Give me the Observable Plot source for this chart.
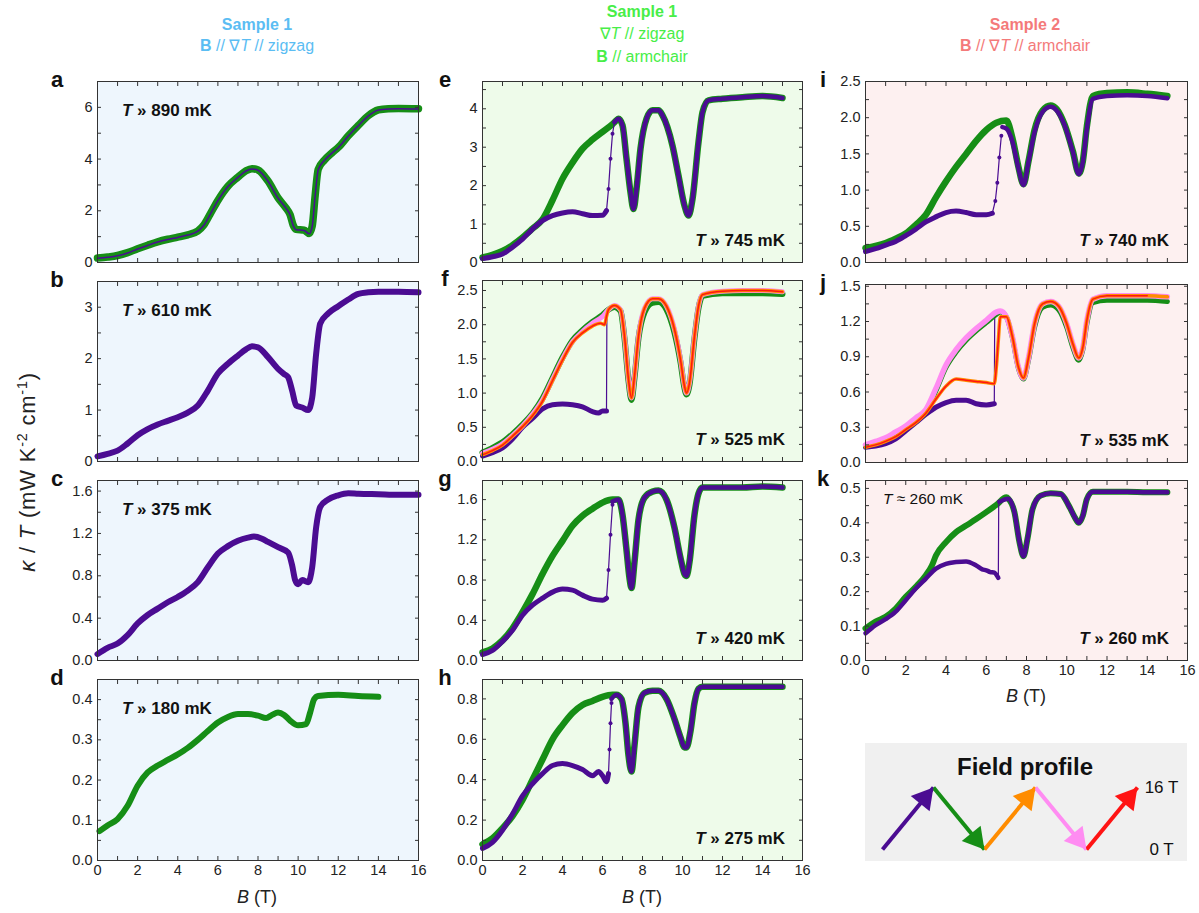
<!DOCTYPE html>
<html><head><meta charset="utf-8">
<script src="https://cdn.jsdelivr.net/npm/d3@7"></script>
<script src="https://cdn.jsdelivr.net/npm/@observablehq/plot@0.6"></script>
<style>
body{margin:0;background:#fff;font-family:"Liberation Sans",Arial,sans-serif;}
#fig{position:relative;width:1199px;height:913px;overflow:hidden;background:#fff;}
.abs{position:absolute;white-space:nowrap;line-height:1;}
</style></head><body><div id="fig"></div><script>
// ---------- data (B in tesla, kappa/T in mW K^-2 cm^-1) ----------
const xTickLabels = [0,2,4,6,8,10,12,14,16];
const temps = {a:"890",b:"610",c:"375",d:"180",e:"745",f:"525",g:"420",h:"275",i:"740",j:"535",k:"260"};
const fieldSweeps = [0,16,0,16,0,16];
const sweepNames = ["up1","down1","up2","down2","up3"];

// Sample 1, B // gradT // zigzag
const aGreen = [[0,0.17],[0.5,0.21],[1,0.27],[1.5,0.38],[2,0.53],[2.5,0.67],[3,0.8],[3.5,0.9],[4,0.98],[4.5,1.07],[5,1.22],[5.3,1.45],[5.6,1.85],[6,2.4],[6.5,2.95],[7,3.3],[7.4,3.55],[7.7,3.63],[8,3.58],[8.5,3.15],[9,2.5],[9.4,2.1],[9.6,1.85],[9.75,1.45],[9.9,1.28],[10.3,1.25],[10.55,1.12],[10.7,1.4],[10.85,2.6],[11,3.6],[11.3,3.95],[11.7,4.25],[12,4.45],[12.5,4.9],[13,5.3],[13.5,5.68],[14,5.9],[14.5,5.95],[15,5.96],[16,5.95]];
const aPurple = [[0,0.16],[0.5,0.2],[1,0.26],[1.5,0.37],[2,0.52],[2.5,0.66],[3,0.79],[3.5,0.89],[4,0.97],[4.5,1.06],[5,1.21],[5.3,1.44],[5.6,1.84],[6,2.39],[6.5,2.94],[7,3.29],[7.4,3.54],[7.7,3.62],[8,3.57],[8.5,3.14],[9,2.49],[9.4,2.09],[9.6,1.84],[9.75,1.44],[9.9,1.27],[10.3,1.24],[10.55,1.11],[10.7,1.39],[10.85,2.59],[11,3.59],[11.3,3.94],[11.7,4.24],[12,4.44],[12.5,4.89],[13,5.29],[13.5,5.67],[14,5.9],[14.5,5.94],[15,5.95],[16,5.94]];
const bPurple = [[0,0.1],[0.5,0.15],[1,0.21],[1.5,0.35],[2,0.51],[2.5,0.63],[3,0.72],[3.5,0.79],[4,0.86],[4.5,0.95],[5,1.09],[5.5,1.38],[6,1.71],[6.5,1.9],[7,2.06],[7.4,2.18],[7.7,2.24],[8,2.22],[8.5,2.03],[9,1.8],[9.3,1.7],[9.5,1.64],[9.7,1.38],[9.9,1.09],[10.2,1.05],[10.5,1.0],[10.7,1.24],[10.9,2.1],[11.1,2.68],[11.5,2.88],[12,3.02],[12.5,3.15],[13,3.26],[13.5,3.29],[14,3.3],[15,3.3],[16,3.29]];
const cPurple = [[0,0.06],[0.5,0.12],[1,0.16],[1.5,0.24],[2,0.35],[2.5,0.43],[3,0.49],[3.5,0.55],[4,0.6],[4.5,0.66],[5,0.74],[5.5,0.88],[6,1.01],[6.5,1.08],[7,1.13],[7.5,1.16],[7.8,1.17],[8.2,1.15],[8.5,1.12],[9,1.07],[9.5,1.02],[9.7,0.9],[9.85,0.76],[10,0.72],[10.2,0.76],[10.5,0.74],[10.7,0.88],[10.9,1.26],[11.1,1.45],[11.5,1.52],[12,1.56],[12.5,1.58],[13,1.575],[14,1.57],[15,1.565],[16,1.565]];
const dGreen = [[0.1,0.073],[0.5,0.087],[1,0.103],[1.5,0.136],[2,0.186],[2.5,0.219],[3,0.236],[3.5,0.25],[4,0.264],[4.5,0.28],[5,0.3],[5.5,0.322],[6,0.343],[6.5,0.357],[7,0.364],[7.5,0.364],[8,0.36],[8.4,0.354],[8.7,0.362],[9,0.368],[9.3,0.362],[9.6,0.348],[10,0.336],[10.4,0.339],[10.6,0.368],[10.8,0.401],[11,0.409],[12,0.412],[13,0.409],[14,0.407]];

// Sample 1, gradT // zigzag, B // armchair
const eUpLow = [[0,0.1],[0.5,0.15],[1,0.22],[1.5,0.4],[2,0.61],[2.5,0.87],[3,1.09],[3.5,1.22],[4,1.29],[4.5,1.32],[5,1.27],[5.5,1.22],[6,1.23],[6.2,1.35]];
const eJump = [[6.2,1.35],[6.3,1.91],[6.4,2.7],[6.5,3.35],[6.6,3.65]];
const eDownHigh = [[0,0.13],[0.5,0.2],[1,0.3],[1.5,0.45],[2,0.65],[2.5,0.88],[3,1.12],[3.5,1.62],[4,2.18],[4.5,2.6],[5,2.96],[5.5,3.2],[6,3.4],[6.5,3.6],[6.7,3.7]];
const eShared = [[6.6,3.65],[6.8,3.74],[7,3.57],[7.2,2.7],[7.4,1.83],[7.55,1.39],[7.7,1.91],[7.9,2.96],[8.2,3.74],[8.5,3.96],[8.8,3.96],[9,3.83],[9.5,3.04],[9.8,2.26],[10.1,1.48],[10.3,1.22],[10.5,1.65],[10.8,3.13],[11,3.91],[11.3,4.22],[12,4.26],[13,4.3],[14,4.33],[15,4.28]];

const fUpLow = [[0,0.08],[0.5,0.13],[1,0.2],[1.5,0.33],[2,0.5],[2.5,0.63],[3,0.77],[3.5,0.83],[4,0.84],[4.5,0.83],[5,0.8],[5.5,0.73],[5.8,0.71],[6,0.74],[6.2,0.74]];
const fJump = [[6.2,0.74],[6.22,2.2]];
const fDownHigh = [[0,0.13],[0.5,0.2],[1,0.28],[1.5,0.4],[2,0.54],[2.5,0.7],[3,0.92],[3.5,1.22],[4,1.52],[4.5,1.77],[5,1.92],[5.5,2.04],[6,2.14],[6.3,2.22]];
const fDown2High = [[0,0.12],[0.5,0.18],[1,0.26],[1.5,0.38],[2,0.52],[2.5,0.69],[3,0.9],[3.5,1.2],[4,1.5],[4.5,1.75],[5,1.9],[5.5,2.02],[6,2.12],[6.3,2.22]];
const fUp2High = [[0,0.1],[0.5,0.16],[1,0.24],[1.5,0.37],[2,0.51],[2.5,0.67],[3,0.88],[3.5,1.18],[4,1.48],[4.5,1.74],[5,1.88],[5.5,1.98],[5.9,2.02],[6.1,2.0],[6.2,2.12],[6.3,2.22]];
const fShared = [[6.3,2.22],[6.6,2.28],[6.9,2.22],[7.1,1.83],[7.3,1.2],[7.45,0.93],[7.6,1.25],[7.8,1.83],[8.1,2.24],[8.5,2.38],[8.8,2.38],[9.2,2.27],[9.6,1.93],[9.9,1.49],[10.1,1.1],[10.2,1.0],[10.35,1.15],[10.6,1.83],[10.8,2.27],[11,2.44],[12,2.49],[13,2.5],[14,2.5],[15,2.48]];
const fDownShared = [[6.3,2.2],[6.6,2.26],[6.9,2.2],[7.1,1.8],[7.3,1.18],[7.45,0.9],[7.6,1.22],[7.8,1.8],[8.1,2.18],[8.5,2.32],[8.8,2.33],[9.2,2.22],[9.6,1.88],[9.9,1.45],[10.1,1.07],[10.2,0.98],[10.35,1.12],[10.6,1.8],[10.8,2.24],[11,2.42],[12,2.46],[13,2.46],[14,2.46],[15,2.45]];

const gUpLow = [[0,0.06],[0.5,0.1],[1,0.19],[1.5,0.3],[2,0.45],[2.5,0.55],[3,0.62],[3.5,0.68],[4,0.71],[4.5,0.7],[5,0.65],[5.5,0.61],[6,0.6],[6.2,0.62]];
const gJump = [[6.2,0.62],[6.3,0.9],[6.4,1.25],[6.5,1.55]];
const gDownHigh = [[0,0.08],[0.5,0.12],[1,0.2],[1.5,0.32],[2,0.48],[2.5,0.66],[3,0.86],[3.5,1.04],[4,1.19],[4.5,1.34],[5,1.44],[5.5,1.51],[6,1.57],[6.5,1.6]];
const gShared = [[6.5,1.58],[6.8,1.6],[7.0,1.45],[7.2,1.1],[7.35,0.82],[7.45,0.72],[7.6,0.98],[7.8,1.4],[8.1,1.62],[8.5,1.68],[8.8,1.69],[9.2,1.6],[9.6,1.32],[9.9,1.02],[10.1,0.86],[10.2,0.84],[10.35,0.98],[10.6,1.45],[10.8,1.66],[11,1.72],[12,1.72],[13,1.72],[14,1.73],[15,1.72]];

const hUpLow = [[0,0.06],[0.5,0.09],[1,0.15],[1.5,0.23],[2,0.32],[2.5,0.38],[3,0.43],[3.5,0.47],[4,0.48],[4.5,0.47],[5,0.45],[5.5,0.42],[5.8,0.44],[6,0.42],[6.2,0.39],[6.3,0.43]];
const hJump = [[6.3,0.43],[6.35,0.55],[6.4,0.68],[6.45,0.78]];
const hDownHigh = [[0,0.08],[0.5,0.11],[1,0.16],[1.5,0.22],[2,0.3],[2.5,0.4],[3,0.5],[3.5,0.6],[4,0.67],[4.5,0.73],[5,0.77],[5.5,0.79],[6,0.81],[6.5,0.82]];
const hShared = [[6.45,0.8],[6.7,0.82],[6.95,0.8],[7.15,0.68],[7.3,0.52],[7.45,0.44],[7.6,0.57],[7.8,0.76],[8.1,0.83],[8.5,0.84],[8.8,0.84],[9.2,0.8],[9.6,0.7],[9.9,0.61],[10.1,0.56],[10.2,0.56],[10.4,0.64],[10.6,0.78],[10.8,0.85],[11,0.86],[12,0.86],[13,0.86],[14,0.86],[15,0.86]];

// Sample 2, B // gradT // armchair
const iUpLow = [[0,0.15],[0.5,0.19],[1,0.24],[1.5,0.29],[2,0.37],[2.5,0.46],[3,0.56],[3.5,0.63],[4,0.69],[4.5,0.71],[5,0.69],[5.5,0.66],[6,0.66],[6.3,0.68]];
const iJump = [[6.3,0.68],[6.45,0.85],[6.55,1.1],[6.65,1.45],[6.75,1.75]];
const iDownHigh = [[0,0.2],[0.5,0.23],[1,0.27],[1.5,0.33],[2,0.4],[2.5,0.52],[3,0.66],[3.5,0.9],[4,1.12],[4.5,1.32],[5,1.5],[5.5,1.68],[6,1.83],[6.5,1.93],[7,1.96]];
const iShared = [[6.8,1.87],[7,1.85],[7.3,1.67],[7.6,1.3],[7.85,1.07],[8.1,1.39],[8.4,1.8],[8.8,2.08],[9.2,2.15],[9.5,2.1],[9.9,1.89],[10.3,1.53],[10.6,1.22],[10.8,1.39],[11,1.85],[11.3,2.26],[12,2.3],[13,2.31],[14,2.3],[15,2.27]];
const iDownShared = [[7,1.96],[7.3,1.72],[7.6,1.32],[7.85,1.08],[8.1,1.4],[8.4,1.83],[8.8,2.1],[9.2,2.17],[9.5,2.12],[9.9,1.9],[10.3,1.54],[10.6,1.23],[10.8,1.4],[11,1.88],[11.3,2.3],[12,2.34],[13,2.35],[14,2.33],[15,2.3]];

const jUpLow = [[0,0.13],[0.5,0.14],[1,0.16],[1.5,0.2],[2,0.27],[2.5,0.34],[3,0.41],[3.5,0.47],[4,0.51],[4.5,0.53],[5,0.53],[5.5,0.5],[6,0.49],[6.4,0.5]];
const jJump = [[6.4,0.5],[6.42,1.25]];
const jUp2Low = [[0,0.13],[0.5,0.15],[1,0.18],[1.5,0.22],[2,0.28],[2.5,0.34],[3,0.42],[3.5,0.54],[4,0.65],[4.5,0.71],[5,0.7],[5.5,0.69],[6,0.68],[6.4,0.67],[6.5,0.81],[6.6,1.04],[6.7,1.24]];
const jDownHigh = [[0,0.14],[0.5,0.17],[1,0.2],[1.5,0.25],[2,0.3],[2.5,0.36],[3,0.43],[3.5,0.61],[4,0.81],[4.5,0.94],[5,1.04],[5.5,1.12],[6,1.19],[6.5,1.26],[6.7,1.28]];
const jDown2High = [[0,0.15],[0.5,0.18],[1,0.21],[1.5,0.26],[2,0.31],[2.5,0.38],[3,0.45],[3.5,0.63],[4,0.83],[4.5,0.96],[5,1.06],[5.5,1.14],[6,1.21],[6.5,1.28],[6.7,1.29]];
const jShared = [[6.7,1.26],[7,1.24],[7.3,1.07],[7.6,0.81],[7.85,0.72],[8.1,0.89],[8.4,1.18],[8.8,1.35],[9.2,1.37],[9.6,1.33],[10,1.18],[10.3,1.01],[10.6,0.89],[10.8,0.98],[11,1.21],[11.3,1.39],[12,1.42],[13,1.42],[14,1.42],[15,1.41]];
const jDownShared = [[7,1.24],[7.3,1.06],[7.6,0.8],[7.85,0.71],[8.1,0.87],[8.4,1.15],[8.8,1.32],[9.2,1.34],[9.6,1.3],[10,1.15],[10.3,0.98],[10.6,0.87],[10.8,0.96],[11,1.18],[11.3,1.36],[12,1.38],[13,1.38],[14,1.38],[15,1.37]];

const kUpLow = [[0,0.079],[0.5,0.103],[1,0.12],[1.5,0.142],[2,0.175],[2.5,0.209],[3,0.238],[3.5,0.267],[4,0.281],[4.5,0.286],[5,0.288],[5.5,0.276],[5.8,0.265],[6,0.262],[6.2,0.257],[6.4,0.255],[6.6,0.24]];
const kJump = [[6.6,0.24],[6.62,0.46]];
const kDownHigh = [[0,0.093],[0.5,0.113],[1,0.127],[1.5,0.151],[2,0.185],[2.5,0.214],[3,0.248],[3.3,0.276],[3.5,0.305],[4,0.344],[4.5,0.373],[5,0.392],[5.5,0.411],[6,0.431],[6.5,0.452],[7,0.474]];
const kShared = [[6.65,0.461],[7.1,0.47],[7.4,0.431],[7.65,0.344],[7.85,0.303],[8.05,0.354],[8.3,0.44],[8.7,0.479],[9.2,0.486],[9.7,0.484],[10.1,0.45],[10.4,0.416],[10.6,0.4],[10.8,0.421],[11,0.469],[11.3,0.49],[12,0.49],[13,0.49],[14,0.489],[15,0.489]];

// ---------- styling ----------
const PURPLE="#4b0c92", GREEN="#168e16", ORANGE="#ff8c00", PINK="#ff8cf2", RED="#ff1414";
const BG=["#eef6fd","#eefbea","#fdf0f0"];
const HEAD=["#5bbdf3","#48ee48","#f47a7a"];
const COLS=[{l:97,r:418},{l:482,r:802},{l:865,r:1187}];
const ROWS=[{t:81,b:262},{t:281,b:461},{t:480,b:660},{t:679,b:860}];
const FONT='"Liberation Sans", Arial, Helvetica, sans-serif';
const fig=document.getElementById("fig");

function join(a,b){const last=a[a.length-1][0];return a.concat(b.filter(d=>d[0]>last));}
function L(data,color,width,extra={}){return {data,color,width,...extra};}
function html(content,x,y,style={},align="center"){
  const d=document.createElement("div");d.className="abs";d.innerHTML=content;
  const tx=align==="center"?"-50%":align==="right"?"-100%":"0";
  Object.assign(d.style,{left:x+"px",top:y+"px",transform:`translate(${tx},-50%)`,fontFamily:FONT},style);
  fig.appendChild(d);return d;
}

const panels=[
 {id:"a",col:0,row:0,ymax:7,yt:[0,2,4,6],minor:1,fmt:d3.format("d"),layers:[L(aGreen,GREEN,7.5),L(aPurple,PURPLE,1.5)]},
 {id:"b",col:0,row:1,ymax:3.5,yt:[0,1,2,3],minor:0.5,fmt:d3.format("d"),layers:[L(bPurple,PURPLE,6)]},
 {id:"c",col:0,row:2,ymax:1.7,yt:[0,0.4,0.8,1.2,1.6],minor:0.2,fmt:d3.format(".1f"),layers:[L(cPurple,PURPLE,6)]},
 {id:"d",col:0,row:3,ymax:0.45,yt:[0,0.1,0.2,0.3,0.4],minor:0.05,fmt:d3.format(".1f"),xl:true,layers:[L(dGreen,GREEN,6)]},
 {id:"e",col:1,row:0,ymax:4.71,yt:[0,1,2,3,4],minor:0.5,fmt:d3.format("d"),layers:[
   L(join(eDownHigh,eShared),GREEN,6.5),L(eUpLow,PURPLE,5),L(eJump,PURPLE,1.2,{curve:"linear",dots:2}),L(eShared,PURPLE,4.5)]},
 {id:"f",col:1,row:1,top:280,ymax:2.646,yt:[0,0.5,1,1.5,2,2.5],minor:0.25,fmt:d3.format(".1f"),layers:[
   L(fUpLow,PURPLE,5),L(fJump,PURPLE,1.2,{curve:"linear"}),L(join(fDownHigh,fDownShared),GREEN,6),
   L(join(fDown2High,fShared),PINK,5),L(join(fUp2High,fShared),ORANGE,3.5),L(join(fUp2High,fShared),RED,1.5)]},
 {id:"g",col:1,row:2,ymax:1.79,yt:[0,0.4,0.8,1.2,1.6],minor:0.2,fmt:d3.format(".1f"),layers:[
   L(join(gDownHigh,gShared),GREEN,6.5),L(gUpLow,PURPLE,5),L(gJump,PURPLE,1.2,{curve:"linear",dots:2}),L(gShared,PURPLE,4.5)]},
 {id:"h",col:1,row:3,ymax:0.896,yt:[0,0.2,0.4,0.6,0.8],minor:0.1,fmt:d3.format(".1f"),xl:true,layers:[
   L(join(hDownHigh,hShared),GREEN,6.5),L(hUpLow,PURPLE,5),L(hJump,PURPLE,1.2,{curve:"linear",dots:2}),L(hShared,PURPLE,4.5)]},
 {id:"i",col:2,row:0,ymax:2.5,yt:[0,0.5,1,1.5,2,2.5],minor:0.25,fmt:d3.format(".1f"),layers:[
   L(join(iDownHigh,iDownShared),GREEN,6.5),L(iUpLow,PURPLE,5),L(iJump,PURPLE,1.2,{curve:"linear",dots:2}),L(iShared,PURPLE,4.5)]},
 {id:"j",col:2,row:1,top:284,bottom:462,ymax:1.515,yt:[0,0.3,0.6,0.9,1.2,1.5],minor:0.15,fmt:d3.format(".1f"),layers:[
   L(jUpLow,PURPLE,5),L(jJump,PURPLE,1.2,{curve:"linear"}),L(join(jDownHigh,jDownShared),GREEN,5),
   L(join(jDown2High,jShared),PINK,5.5),L(join(jUp2Low,jShared),ORANGE,3.5),L(join(jUp2Low,jShared).filter(d=>d[0]<=14),RED,1.5)]},
 {id:"k",col:2,row:2,ymax:0.523,yt:[0,0.1,0.2,0.3,0.4,0.5],minor:0.05,fmt:d3.format(".1f"),xl:true,layers:[
   L(join(kDownHigh,kShared),GREEN,6),L(kUpLow,PURPLE,4.5),L(kJump,PURPLE,1.2,{curve:"linear"}),L(kShared,PURPLE,4.5)]}
];

function drawPanel(p){
  const c=COLS[p.col], r=ROWS[p.row];
  const top=p.top??r.t, bottom=p.bottom??r.b;
  const mL=45,mR=6,mT=6,mB=p.xl?26:6;
  const W=c.r-c.l+mL+mR, H=bottom-top+mT+mB;
  const yMinor=d3.range(0,Math.floor(p.ymax/p.minor+1e-6)+1).map(i=>i*p.minor);
  const xMinor=d3.range(0,17,1);
  const marks=[Plot.frame({fill:BG[p.col],stroke:null})];
  for(const l of p.layers){
    marks.push(Plot.line(l.data,{x:d=>d[0],y:d=>d[1],stroke:l.color,strokeWidth:l.width,curve:l.curve||"monotone-x",strokeLinejoin:"round",strokeLinecap:"round"}));
    if(l.dots) marks.push(Plot.dot(l.data,{x:d=>d[0],y:d=>d[1],r:l.dots,fill:l.color,stroke:null}));
  }
  marks.push(Plot.frame({stroke:"#333",strokeWidth:1}));
  const blank=()=>"";
  marks.push(Plot.axisX({anchor:"bottom",ticks:xMinor,tickSize:4,dy:-4,tickFormat:blank,label:null,stroke:"#333"}));
  marks.push(Plot.axisX({anchor:"top",ticks:xMinor,tickSize:4,dy:4,tickFormat:blank,label:null,stroke:"#333"}));
  marks.push(Plot.axisY({anchor:"left",ticks:yMinor,tickSize:4,dx:4,tickFormat:blank,label:null,stroke:"#333"}));
  marks.push(Plot.axisY({anchor:"right",ticks:yMinor,tickSize:4,dx:-4,tickFormat:blank,label:null,stroke:"#333"}));
  marks.push(Plot.axisY({anchor:"left",ticks:p.yt,tickSize:0,tickPadding:5,tickFormat:p.fmt,label:null}));
  if(p.xl) marks.push(Plot.axisX({anchor:"bottom",ticks:xTickLabels,tickSize:0,tickPadding:4,tickFormat:d=>String(d),label:null}));
  const svg=Plot.plot({width:W,height:H,marginLeft:mL,marginRight:mR,marginTop:mT,marginBottom:mB,
    x:{domain:[0,16]},y:{domain:[0,p.ymax]},
    style:{fontFamily:FONT,fontSize:"14.5px",color:"#222",background:"transparent",overflow:"visible"},
    marks});
  Object.assign(svg.style,{position:"absolute",left:(c.l-mL)+"px",top:(top-mT)+"px"});
  fig.appendChild(svg);
  const lx=[57,445,823][p.col];
  html(p.id,lx,top-1,{fontWeight:"bold",fontSize:"22px",color:"#111"});
  const t=`<i>T</i> » ${temps[p.id]} mK`;
  if(p.col===0) html(t,122,top+29,{fontWeight:"bold",fontSize:"17px",color:"#111"},"left");
  else html(t,p.col===1?785:1169,bottom-22,{fontWeight:"bold",fontSize:"17px",color:"#111"},"right");
}
panels.forEach(drawPanel);
html(`<i>T</i> ≈ ${temps.k} mK`,883,499,{fontSize:"15.5px",color:"#111"},"left");

// headers
const hs={fontSize:"16px"};
html("Sample 1",257,25,{...hs,fontWeight:"bold",color:HEAD[0]});
html(`<b>B</b> // ∇<i>T</i> // zigzag`,257,46,{...hs,color:HEAD[0]});
html("Sample 1",642,12,{...hs,fontWeight:"bold",color:HEAD[1]});
html(`∇<i>T</i> // zigzag`,642,34,{...hs,color:HEAD[1]});
html(`<b>B</b> // armchair`,642,57,{...hs,color:HEAD[1]});
html("Sample 2",1025,25,{...hs,fontWeight:"bold",color:HEAD[2]});
html(`<b>B</b> // ∇<i>T</i> // armchair`,1025,46,{...hs,color:HEAD[2]});

// axis titles
const bt=`<i>B</i> (T)`;
html(bt,257,897,{fontSize:"18px",color:"#222"});
html(bt,642,897,{fontSize:"18px",color:"#222"});
html(bt,1026,696,{fontSize:"18px",color:"#222"});
const yl=html(`<i>κ</i> / <i>T</i> (mW K<sup style="font-size:0.65em">-2</sup> cm<sup style="font-size:0.65em">-1</sup>)`,27,472,{fontSize:"22px",letterSpacing:"0.8px",color:"#222"});
yl.style.transform="translate(-50%,-50%) rotate(-90deg)";

// field profile
const box=document.createElement("div");
Object.assign(box.style,{position:"absolute",left:"865px",top:"743px",width:"322px",height:"118px",background:"#f0f0f0"});
fig.appendChild(box);
html("Field profile",1025,767,{fontWeight:"bold",fontSize:"24px",color:"#111"});
const sweepColors=[PURPLE,GREEN,ORANGE,PINK,RED];
const sweeps=sweepNames.map((n,i)=>({n,i,from:fieldSweeps[i],to:fieldSweeps[i+1],c:sweepColors[i]}));
const ups=sweeps.filter(d=>d.to>d.from), downs=sweeps.filter(d=>d.to<d.from);
const fp=Plot.plot({width:322,height:118,marginLeft:17,marginRight:50,marginTop:44,marginBottom:12,
  x:{domain:[0,5],axis:null},y:{domain:[0,16],axis:null},color:{type:"identity"},
  style:{fontFamily:FONT,fontSize:"17px",color:"#111",background:"transparent",overflow:"visible"},
  marks:[
    Plot.link(sweeps,{x1:d=>d.i,y1:d=>d.from,x2:d=>d.i+1,y2:d=>d.to,stroke:d=>d.c,strokeWidth:4}),
    Plot.dot(ups,{x:d=>d.i+1,y:d=>d.to,symbol:"triangle",r:9,fill:d=>d.c,stroke:null,rotate:39,dx:-8.9,dy:10.8}),
    Plot.dot(downs,{x:d=>d.i+1,y:d=>d.to,symbol:"triangle",r:9,fill:d=>d.c,stroke:null,rotate:141,dx:-8.9,dy:-10.8}),
    Plot.text([{v:16,t:"16 T"},{v:0,t:"0 T"}],{x:5,y:d=>d.v,text:d=>d.t,dx:24,fill:"#111"})
  ]});
Object.assign(fp.style,{position:"absolute",left:"865px",top:"743px"});
fig.appendChild(fp);
</script></body></html>
